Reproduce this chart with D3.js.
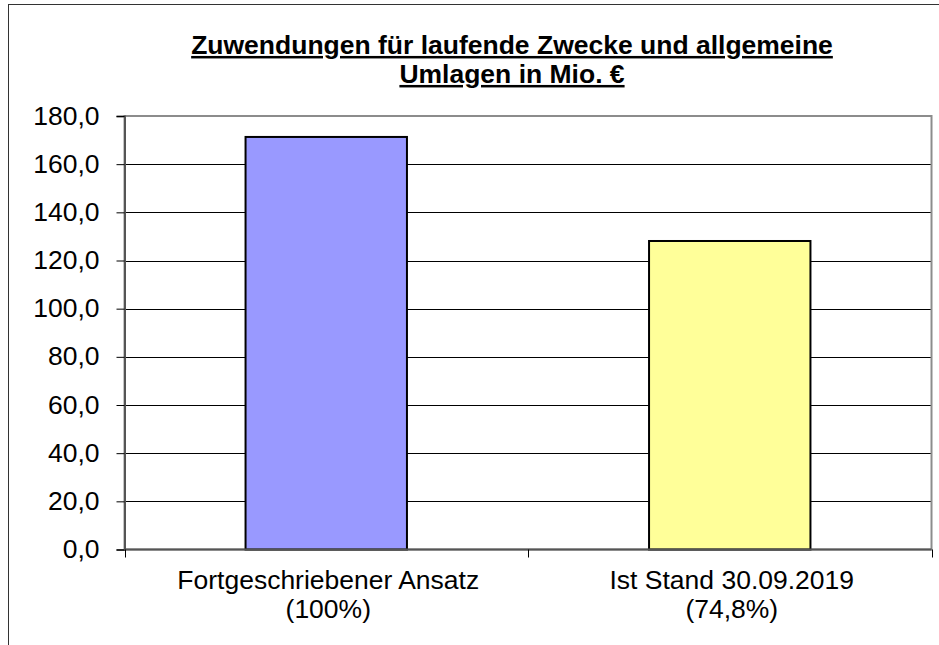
<!DOCTYPE html>
<html>
<head>
<meta charset="utf-8">
<script src="https://cdn.jsdelivr.net/npm/d3@7/dist/d3.min.js"></script>
<style>
  body { margin: 0; background: #fff; }
  svg { display: block; font-family: "Liberation Sans", Arial, sans-serif; }
</style>
</head>
<body>
<script>
// Zuwendungen chart - two bars

const categories = ["Fortgeschriebener Ansatz", "Ist Stand 30.09.2019"];
const subLabels = ["(100%)", "(74,8%)"];
const values = [171.3, 128.1];
const barColors = ["#9999ff", "#ffff99"];
const yTicks = [0, 20, 40, 60, 80, 100, 120, 140, 160, 180];
const titleLines = ["Zuwendungen für laufende Zwecke und allgemeine", "Umlagen in Mio. €"];

const width = 939, height = 645;
const plot = {left: 124.5, right: 931.5, top: 116, bottom: 549.5};
const stretch = 1.06;   // the original text is a bit wider than Arial

const svg = d3.select("body").append("svg")
    .attr("width", width)
    .attr("height", height);

// outer frame (right and bottom run off the picture)
svg.append("rect")
    .attr("x", 8.5).attr("y", 4.5)
    .attr("width", 940).attr("height", 660)
    .attr("fill", "none")
    .attr("stroke", "#333")
    .attr("stroke-width", 1);

// title
svg.append("g").selectAll("g")
  .data(titleLines)
  .join("g")
    .attr("transform", (d, i) => "translate(512," + (54 + i * 29) + ") scale(" + stretch + ",1)")
  .append("text")
    .attr("text-anchor", "middle")
    .style("font-size", "25px")
    .style("font-weight", "bold")
    .style("text-decoration", "underline")
    .text(d => d);

const x = d3.scaleBand()
    .domain(categories)
    .range([plot.left, plot.right])
    .paddingInner(0.6)
    .paddingOuter(0.3);

const y = d3.scaleLinear()
    .domain([0, 180])
    .range([plot.bottom, plot.top]);

// gridlines
svg.append("g").selectAll("line")
  .data(yTicks.filter(t => t > 0 && t < 180))
  .join("line")
    .attr("x1", plot.left).attr("x2", plot.right)
    .attr("y1", d => Math.round(y(d)) + 0.5)
    .attr("y2", d => Math.round(y(d)) + 0.5)
    .attr("stroke", "#000")
    .attr("stroke-width", 1);

// plot area border (grey)
svg.append("rect")
    .attr("x", plot.left).attr("y", plot.top)
    .attr("width", plot.right - plot.left)
    .attr("height", plot.bottom - plot.top)
    .attr("fill", "none")
    .attr("stroke", "#8c8c8c")
    .attr("stroke-width", 2);

// bars
svg.append("g").selectAll("rect")
  .data(values)
  .join("rect")
    .attr("x", (d, i) => x(categories[i]))
    .attr("y", d => y(d))
    .attr("width", x.bandwidth())
    .attr("height", d => y(0) - y(d))
    .attr("fill", (d, i) => barColors[i])
    .attr("stroke", "#000")
    .attr("stroke-width", 2);

// y axis
const yAxis = svg.append("g")
    .attr("transform", "translate(" + plot.left + ",0)")
    .call(d3.axisLeft(y).tickValues(yTicks).tickSize(8).tickPadding(16)
      .tickFormat(d => d3.format(".1f")(d).replace(".", ",")));
yAxis.select(".domain").attr("stroke", "#555").attr("stroke-width", 2);
yAxis.selectAll(".tick line").attr("stroke", "#000");
yAxis.selectAll(".tick text")
    .attr("fill", "#000")
    .attr("x", -23.5)
    .attr("transform", "scale(" + stretch + ",1)")
    .style("font-size", "25px")
    .style("font-family", "'Liberation Sans', Arial, sans-serif");

// x axis: tick marks sit between categories
const step = x.step();
const boundaries = d3.range(categories.length + 1).map(i => plot.left + i * step);
svg.append("line")
    .attr("x1", plot.left).attr("x2", plot.right)
    .attr("y1", plot.bottom).attr("y2", plot.bottom)
    .attr("stroke", "#555").attr("stroke-width", 2);
svg.append("g").selectAll("line")
  .data(boundaries)
  .join("line")
    .attr("x1", d => Math.round(d) + 0.5).attr("x2", d => Math.round(d) + 0.5)
    .attr("y1", plot.bottom).attr("y2", plot.bottom + 8)
    .attr("stroke", "#000");

// category labels (two lines)
const catLabels = svg.append("g").selectAll("g")
  .data(categories)
  .join("g")
    .attr("transform", d => "translate(" + (x(d) + x.bandwidth() / 2 + 2) + ",0) scale(" + stretch + ",1)");
catLabels.append("text")
    .attr("text-anchor", "middle")
    .attr("y", 589.5)
    .style("font-size", "25px")
    .text(d => d);
catLabels.append("text")
    .attr("text-anchor", "middle")
    .attr("y", 618)
    .style("font-size", "25px")
    .text((d, i) => subLabels[i]);
</script>
</body>
</html>
